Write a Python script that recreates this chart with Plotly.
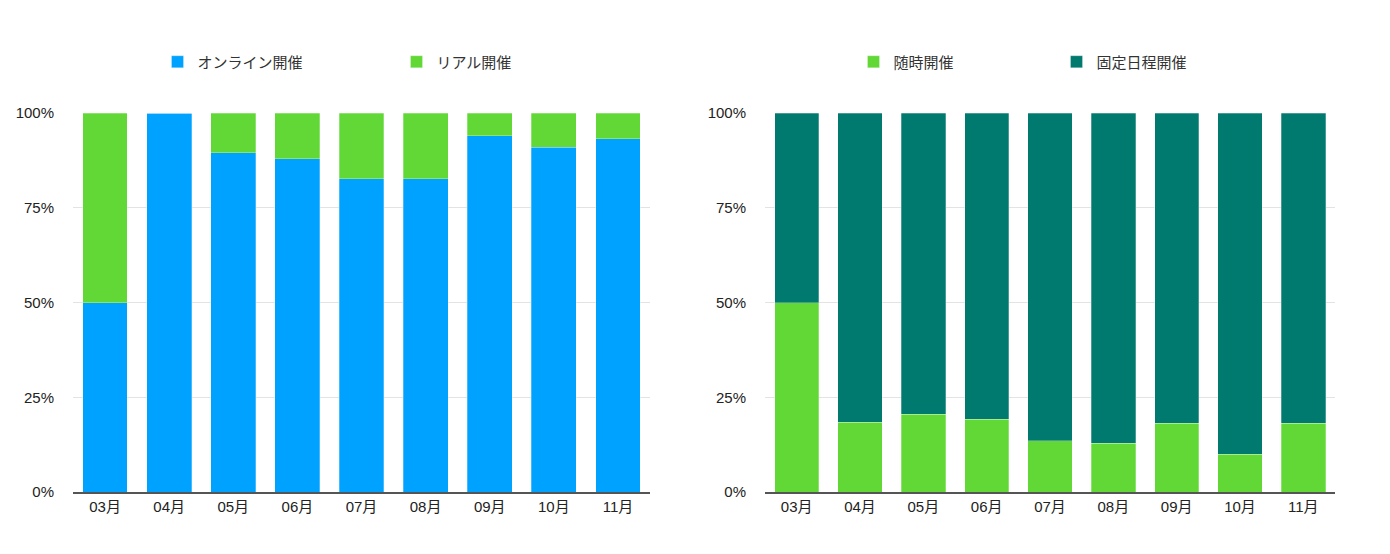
import plotly.graph_objects as go

months = ["03月", "04月", "05月", "06月", "07月", "08月", "09月", "10月", "11月"]

# left chart: online vs. in-person (%)
online = [50.0, 100.0, 89.5, 87.9, 82.6, 82.6, 94.0, 91.0, 93.2]
real = [50.0, 0.0, 10.5, 12.1, 17.4, 17.4, 6.0, 9.0, 6.8]

# right chart: ad-hoc vs. fixed schedule (%)
adhoc = [50.0, 18.4, 20.5, 19.2, 13.5, 12.8, 18.1, 9.9, 18.1]
fixed = [50.0, 81.6, 79.5, 80.8, 86.5, 87.2, 81.9, 90.1, 81.9]

tick_vals = [0, 25, 50, 75, 100]
tick_text = ["0%", "25%", "50%", "75%", "100%"]

BLUE = "#00A2FF"
GREEN = "#61D836"
TEAL = "#00796F"
FONT = "Liberation Sans, Arial, Noto Sans CJK JP, sans-serif"

# page body has an 8px margin, so the figure is laid out in its own frame
OFF = 8
W, H = 1390 - 2 * OFF, 554 - 2 * OFF


def fx(px):
    return (px - OFF) / W


def fy(px):
    return 1 - (px - OFF) / H


fig = go.Figure()

fig.add_trace(go.Bar(x=months, y=online, name="オンライン開催", marker_color=BLUE,
                     xaxis="x", yaxis="y", legend="legend"))
fig.add_trace(go.Bar(x=months, y=real, name="リアル開催", marker_color=GREEN,
                     xaxis="x", yaxis="y", legend="legend"))
fig.add_trace(go.Bar(x=months, y=adhoc, name="随時開催", marker_color=GREEN,
                     xaxis="x2", yaxis="y2", legend="legend2"))
fig.add_trace(go.Bar(x=months, y=fixed, name="固定日程開催", marker_color=TEAL,
                     xaxis="x2", yaxis="y2", legend="legend2"))

fig.update_traces(marker_line_width=0.6, marker_line_color="rgba(255,255,255,0.45)")

xcommon = dict(showline=True, linecolor="#555555", linewidth=1.5, showgrid=False,
               ticks="", tickfont=dict(size=15, color="#222222"), automargin=False)
ycommon = dict(range=[0, 100], tickvals=tick_vals, ticktext=tick_text,
               showgrid=True, gridcolor="#e3e3e3", gridwidth=1, zeroline=False,
               tickfont=dict(size=15, color="#222222"), ticklabelstandoff=18,
               automargin=False, fixedrange=True)

ydom = [fy(492), fy(113)]

legcommon = dict(orientation="h", yanchor="middle", xanchor="left",
                 traceorder="normal",
                 font=dict(size=15, color="#333333", family=FONT),
                 bgcolor="rgba(0,0,0,0)", itemclick=False)

fig.update_layout(
    width=W, height=H,
    margin=dict(l=0, r=0, t=0, b=0),
    paper_bgcolor="white", plot_bgcolor="white",
    font=dict(family=FONT),
    barmode="stack", bargap=0.3,
    xaxis=dict(domain=[fx(73), fx(650)], anchor="y", **xcommon),
    yaxis=dict(domain=ydom, anchor="x", **ycommon),
    xaxis2=dict(domain=[fx(765), fx(1335)], anchor="y2", **xcommon),
    yaxis2=dict(domain=ydom, anchor="x2", **ycommon),
    legend=dict(x=fx(157.5), y=fy(62), entrywidth=194, **legcommon),
    legend2=dict(x=fx(853.5), y=fy(62), entrywidth=158, **legcommon),
)

fig.write_html("out.html")
